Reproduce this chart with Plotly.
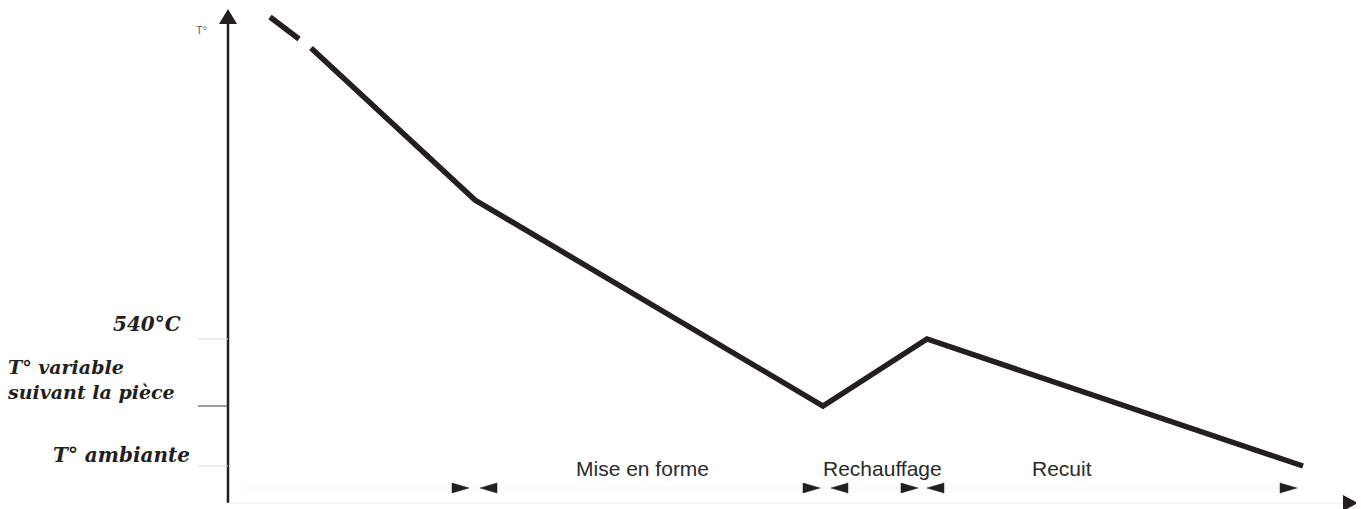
import plotly.graph_objects as go

# ---- data (schematic units: x = time, y = temperature) ----
T_AMB = 43
T_VAR = 103
T_540 = 170
curve_head_x = [270, 299]
curve_head_y = [492, 470]
curve_x = [311, 475, 823, 927, 1303]
curve_y = [461, 309, T_VAR, T_540, T_AMB]

level_values = [T_540, T_VAR, T_AMB]
level_colors = ["#d9d9d9", "#3a3a3a", "#dcdcdc"]

phase_names = ["Mise en forme", "Rechauffage", "Recuit"]
phase_label_x = [642, 882, 1062]
arrow_right_tips = [469, 820, 918, 1297]
arrow_left_tips = [480, 831, 927]

INK = "#231f20"

# page body has an 8px margin: shrink the figure and offset the ranges so that
# schematic units map 1:1 onto window pixels
PAGE_OFF = 8
W, H = 1364, 509

fig = go.Figure()

fig.add_trace(go.Scatter(x=curve_head_x, y=curve_head_y, mode="lines",
                         line=dict(color=INK, width=5.5), hoverinfo="skip"))
fig.add_trace(go.Scatter(x=curve_x, y=curve_y, mode="lines",
                         line=dict(color=INK, width=5.5, shape="linear"), hoverinfo="skip"))

shapes = []
# y axis
shapes.append(dict(type="line", x0=228, x1=228, y0=6, y1=488,
                   line=dict(color=INK, width=2.5)))
shapes.append(dict(type="path", path="M 219,485 L 237,485 L 228,500 Z",
                   fillcolor=INK, line=dict(width=0)))
# x axis (faint) + arrow
shapes.append(dict(type="line", x0=228, x1=1345, y0=6, y1=6,
                   line=dict(color="#ececec", width=1)))
shapes.append(dict(type="path", path="M 1343,-2 L 1343,14 L 1358,6 Z",
                   fillcolor=INK, line=dict(width=0)))
# phase line (faint)
shapes.append(dict(type="line", x0=243, x1=1290, y0=21, y1=21,
                   line=dict(color="#f0f0f0", width=1)))
# level ticks
for v, c in zip(level_values, level_colors):
    shapes.append(dict(type="line", x0=198, x1=228, y0=v, y1=v,
                       line=dict(color=c, width=1)))
# phase arrows
AY = 21
for e in arrow_right_tips:
    shapes.append(dict(type="path",
                       path=f"M {e},{AY} L {e-17},{AY+5} L {e-17},{AY-5} Z",
                       fillcolor=INK, line=dict(color=INK, width=0.5)))
for s in arrow_left_tips:
    shapes.append(dict(type="path",
                       path=f"M {s},{AY} L {s+17},{AY+5} L {s+17},{AY-5} Z",
                       fillcolor=INK, line=dict(color=INK, width=0.5)))

serif = dict(family="DejaVu Serif", size=20, color=INK, weight="bold", style="italic")
serif_small = dict(family="DejaVu Serif", size=19, color=INK, weight="bold", style="italic")
annotations = [
    dict(x=201, y=479, text="T°", showarrow=False, xanchor="center", yanchor="middle",
         font=dict(family="Liberation Sans", size=11, color="#666666")),
    dict(x=183, y=185, text="540°C", showarrow=False, xanchor="right", yanchor="middle", font=serif),
    dict(x=0, xref="paper", xshift=-3, y=130, text="T° variable<br>suivant la pièce",
         showarrow=False, align="left", xanchor="left", yanchor="middle", font=serif_small),
    dict(x=192, y=54, text="T° ambiante", showarrow=False, xanchor="right", yanchor="middle", font=serif),
]
for name, lx in zip(phase_names, phase_label_x):
    annotations.append(dict(x=lx, y=41, text=name, showarrow=False, xanchor="center",
                            yanchor="middle",
                            font=dict(family="Liberation Sans", size=21, color="#2a2a2a")))

fig.update_layout(
    width=W - PAGE_OFF, height=H - PAGE_OFF,
    margin=dict(l=0, r=0, t=0, b=0),
    paper_bgcolor="white", plot_bgcolor="white",
    showlegend=False,
    xaxis=dict(range=[PAGE_OFF, W], visible=False, fixedrange=True),
    yaxis=dict(range=[0, H - PAGE_OFF], visible=False, fixedrange=True),
    shapes=shapes,
    annotations=annotations,
)

fig.write_html("out.html")
